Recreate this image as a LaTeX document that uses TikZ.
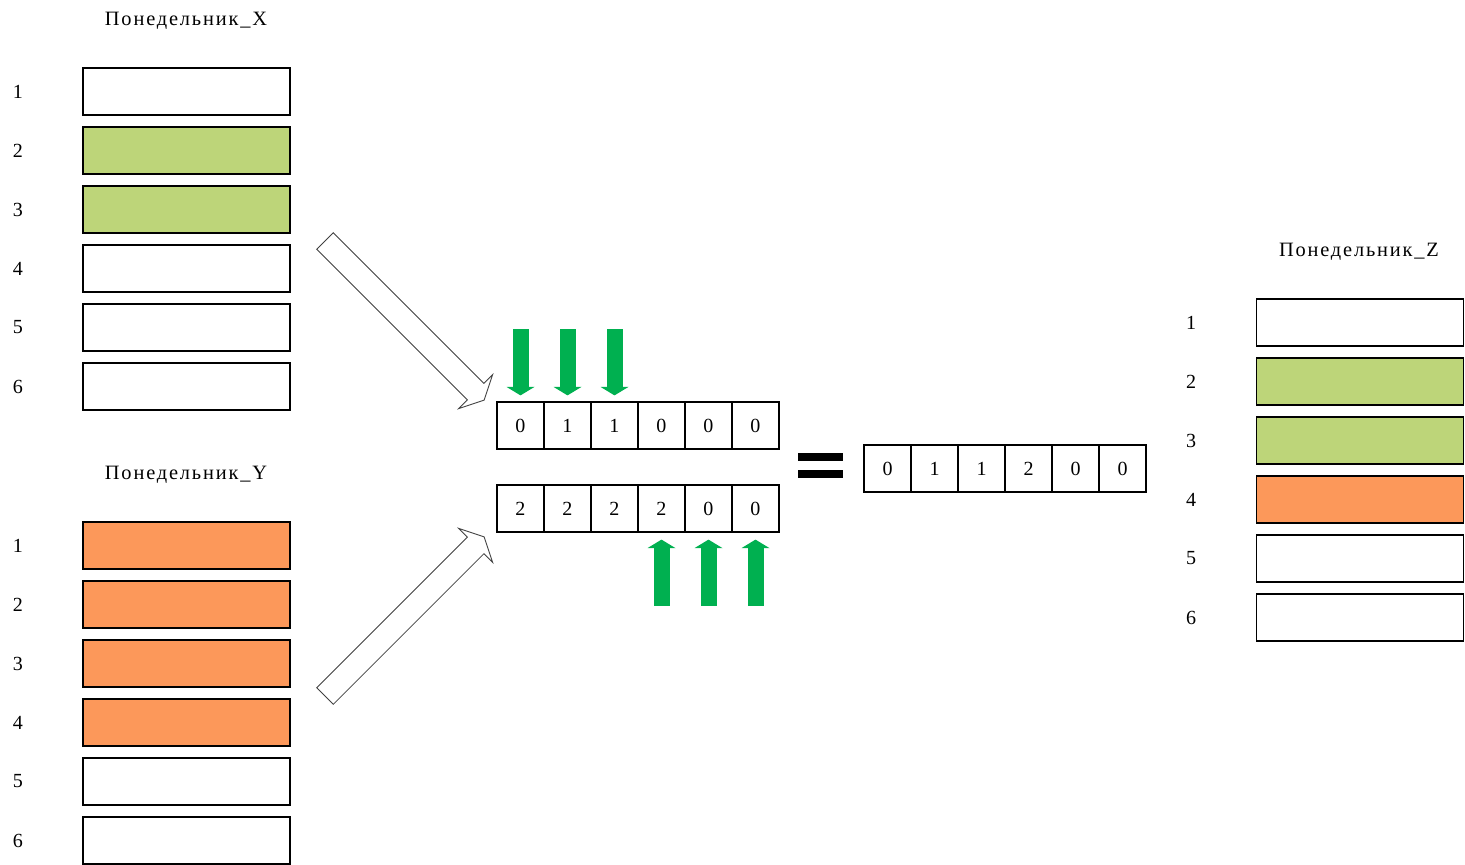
\documentclass[tikz,border=0pt]{standalone}
\usepackage{fontspec}
\setmainfont{Liberation Serif}
\usetikzlibrary{arrows.meta}
\definecolor{leaf}{RGB}{189,213,121}
\definecolor{peach}{RGB}{252,152,90}
\definecolor{marker}{RGB}{0,176,80}
\tikzset{
    slot/.style={draw, line width=0.7pt, minimum width=4.14cm, minimum height=0.94cm, inner sep=0pt},
    cell/.style={draw, line width=0.7pt, minimum size=0.94cm, inner sep=0pt},
    title/.style={font=\fontsize{11.6}{13}\selectfont\addfontfeatures{LetterSpace=9}},
    hollow/.style={draw=black!75, line width=0.5pt, fill=white, line join=miter},
    push/.style={marker, line width=0.32cm, -{Triangle[length=0.17cm, width=0.56cm, line width=0pt]}}
}
\begin{document}
\begin{tikzpicture}[x=0.02cm, y=-0.02cm, font=\fontsize{11.4}{13}\selectfont]
    \useasboundingbox (0,0) rectangle (1465,865);
    % day schedules
    \node[title] (tx) at (186,21) {Понедельник\_X};
    \node[title] (ty) at (186,475) {Понедельник\_Y};
    \node[title] (tz) at (1359,252) {Понедельник\_Z};
    \foreach \i/\cx/\cy/\cz in {1/white/peach/white, 2/leaf/peach/leaf, 3/leaf/peach/leaf, 4/white/peach/peach, 5/white/white/white, 6/white/white/white}
    {
        \node[slot, fill=\cx] (x\i) at (186.5,32.5+59*\i) {};
        \node (lx\i) at (18,32.5+59*\i) {\i};
        \node[slot, fill=\cy] (y\i) at (186.5,486.5+59*\i) {};
        \node (ly\i) at (18,486.5+59*\i) {\i};
        \node[slot, fill=\cz] (z\i) at (1360,263.5+59*\i) {};
        \node (lz\i) at (1191,263.5+59*\i) {\i};
    }
    % bit rows
    \foreach \j/\a/\b/\c in {1/0/2/0, 2/1/2/1, 3/1/2/1, 4/0/2/2, 5/0/0/0, 6/0/0/0}
    {
        \node[cell] (a\j) at (473.5+47*\j,425.5) {\a};
        \node[cell] (b\j) at (473.5+47*\j,508.5) {\b};
        \node[cell] (c\j) at (840.5+47*\j,468.5) {\c};
    }
    \foreach \j in {1,2,3}
        \draw[push] (a\j.north) ++(0,-72) -- (a\j.north) [shorten >=0.12cm];
    \foreach \j in {4,5,6}
        \draw[push] (b\j.south) ++(0,73) -- (b\j.south) [shorten >=0.14cm];
    % equals sign
    \fill (798,453) rectangle (843,461);
    \fill (798,470) rectangle (843,478);
    % hollow arrows
    \begin{scope}[shift={(325,241)}, rotate=-45]
        \draw[hollow] (0,-11.75) -- (213,-11.75) -- (213,-24) -- (225,0) -- (213,24) -- (213,11.75) -- (0,11.75) -- cycle;
    \end{scope}
    \begin{scope}[shift={(325,696)}, rotate=45]
        \draw[hollow] (0,-11.75) -- (213,-11.75) -- (213,-24) -- (225,0) -- (213,24) -- (213,11.75) -- (0,11.75) -- cycle;
    \end{scope}
\end{tikzpicture}
\end{document}
